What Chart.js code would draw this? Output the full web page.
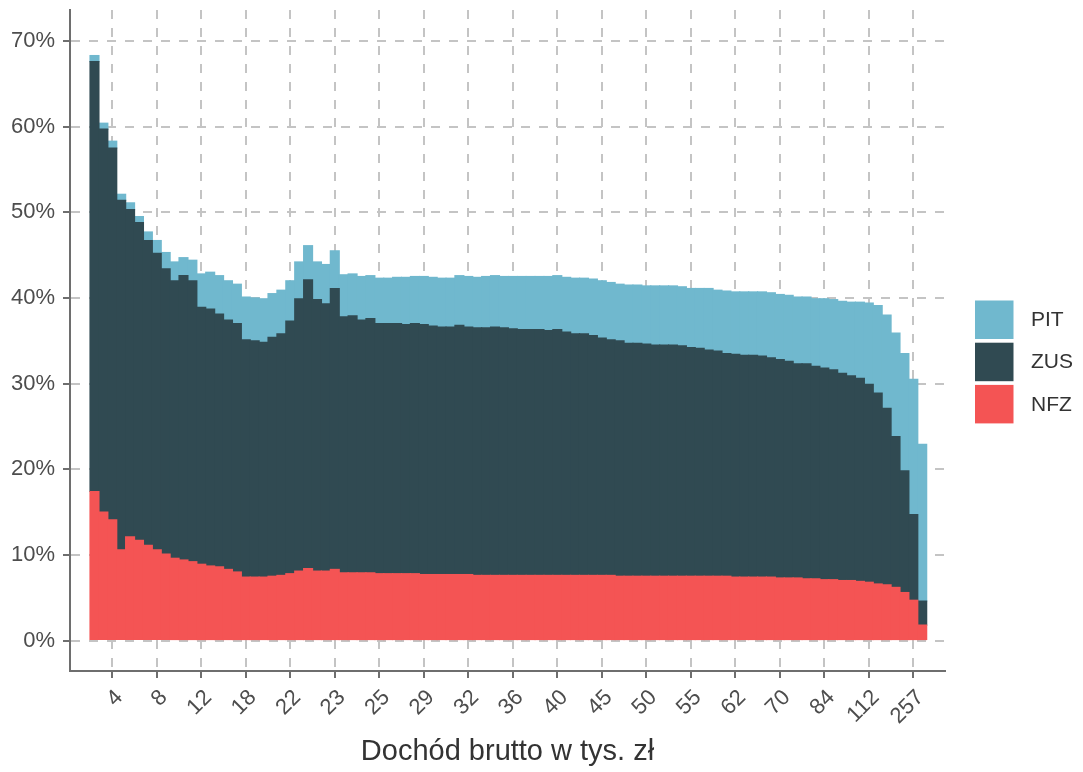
<!DOCTYPE html>
<html>
<head>
<meta charset="utf-8">
<script src="https://cdn.jsdelivr.net/npm/chart.js@4/dist/chart.umd.min.js"></script>
<style>
  html, body { margin:0; padding:0; background:#fff; }
</style>
</head>
<body>
<canvas id="taxChart" width="1083" height="772"></canvas>
<script>
// shares of gross income, percent, one bar per income group
const nfz = [17.4,15.0,14.1,10.6,12.1,11.7,11.1,10.6,10.1,9.6,9.4,9.2,8.9,8.7,8.6,8.3,8.0,7.4,7.4,7.4,
  7.5,7.6,7.8,8.1,8.4,8.1,8.1,8.3,7.9,7.9,7.9,7.9,7.8,7.8,7.8,7.8,7.8,7.7,7.7,7.7,
  7.7,7.7,7.7,7.6,7.6,7.6,7.6,7.6,7.6,7.6,7.6,7.6,7.6,7.6,7.6,7.6,7.6,7.6,7.6,7.5,
  7.5,7.5,7.5,7.5,7.5,7.5,7.5,7.5,7.5,7.5,7.5,7.5,7.4,7.4,7.4,7.4,7.4,7.3,7.3,7.3,
  7.2,7.2,7.1,7.1,7.0,7.0,6.9,6.8,6.6,6.5,6.2,5.6,4.7,1.8];
const zus = [50.2,44.7,43.4,40.8,38.2,37.1,35.6,34.6,33.3,32.4,33.2,32.8,30.0,30.0,29.5,29.1,29.0,27.7,27.6,27.4,
  27.9,28.2,29.5,31.8,33.7,31.7,31.2,32.8,29.9,30.0,29.5,29.7,29.2,29.2,29.2,29.1,29.2,29.2,29.0,28.9,
  28.9,29.1,28.9,28.9,28.9,29.0,28.9,28.8,28.7,28.7,28.7,28.6,28.7,28.4,28.2,28.2,28.0,27.7,27.5,27.5,
  27.2,27.2,27.1,27.0,27.0,27.0,26.9,26.7,26.6,26.4,26.3,26.0,26.0,25.9,25.9,25.8,25.6,25.5,25.3,25.0,
  25.1,24.8,24.7,24.5,24.2,23.9,23.7,23.1,22.3,20.6,17.6,14.2,10.0,2.8];
const pit = [0.7,0.7,0.8,0.7,0.8,0.7,1.0,1.5,1.9,2.2,2.1,2.4,3.9,4.3,4.5,4.6,4.6,5.0,5.0,5.1,
  5.1,5.1,4.7,4.3,4.0,4.4,4.6,4.4,4.9,4.9,5.1,5.0,5.3,5.3,5.4,5.5,5.5,5.6,5.7,5.7,
  5.7,5.8,5.9,5.9,6.0,6.0,6.0,6.1,6.2,6.2,6.2,6.3,6.3,6.4,6.5,6.5,6.6,6.7,6.7,6.6,
  6.8,6.8,6.8,6.9,6.9,6.9,6.9,6.9,7.0,7.2,7.1,7.3,7.3,7.4,7.4,7.5,7.6,7.6,7.7,7.8,
  7.8,7.9,8.1,8.2,8.4,8.6,8.9,9.5,10.2,10.9,12.1,13.7,15.8,18.3];

// x tick labels (income in thousand zl), every 5th group starting at group 3
const tickLabels = ['4','8','12','18','22','23','25','29','32','36','40','45','50','55','62','70','84','112','257'];
const firstTick = 3;
const tickStep = 5;
const yTicks = [0,10,20,30,40,50,60,70];

const FONT = '"Liberation Sans", Arial, sans-serif';
const colors = { pit:'#70b8ce', zus:'#304a52', nfz:'#f45454' };

const toPoints = arr => arr.map((v, i) => ({ x: i + 1, y: v }));

// legend drawn to the right, like the ggplot one
const sideLegend = {
  id: 'sideLegend',
  afterDraw(c) {
    const ctx = c.ctx;
    const items = c.data.datasets.slice().reverse();
    ctx.save();
    ctx.font = '21px ' + FONT;
    ctx.textBaseline = 'middle';
    ctx.textAlign = 'left';
    items.forEach((ds, i) => {
      const top = 300.5 + i * 42.2;
      ctx.fillStyle = ds.backgroundColor;
      ctx.fillRect(975, top, 38.5, 38.5);
      ctx.fillStyle = '#333';
      ctx.fillText(ds.label, 1031, top + 20);
    });
    ctx.restore();
  }
};

new Chart(document.getElementById('taxChart'), {
  type: 'bar',
  data: {
    datasets: [
      { label:'NFZ', data: toPoints(nfz), backgroundColor: colors.nfz },
      { label:'ZUS', data: toPoints(zus), backgroundColor: colors.zus },
      { label:'PIT', data: toPoints(pit), backgroundColor: colors.pit }
    ]
  },
  options: {
    responsive: false,
    animation: false,
    devicePixelRatio: 1,
    barPercentage: 1,
    categoryPercentage: 1,
    inflateAmount: 0.6,
    layout: { padding: { top:10, right:138, bottom:0, left:0 } },
    plugins: {
      legend: { display:false },
      tooltip: { enabled:false }
    },
    scales: {
      x: {
        type: 'linear',
        stacked: true,
        offset: false,
        min: -1.75,
        max: 96.56,
        afterBuildTicks: s => { s.ticks = tickLabels.map((t, i) => ({ value: firstTick + i * tickStep })); },
        afterFit: s => { s.height = 101; s.paddingLeft = 0; s.paddingRight = 0; },
        ticks: {
          autoSkip: false,
          maxRotation: 45,
          minRotation: 45,
          padding: 4,
          labelOffset: 7,
          color: '#4d4d4d',
          font: { family: FONT, size: 22, lineHeight: 1.56 },
          callback: (v, i) => tickLabels[i]
        },
        grid: { offset:false, color:'#c4c4c4', lineWidth:2, tickLength:7, tickWidth:2, tickColor:'#6e6e6e' },
        border: { display:true, color:'#6e6e6e', width:2, dash:[9,9] },
        title: {
          display: true,
          text: 'Dochód brutto w tys. zł',
          color: '#333',
          font: { family: FONT, size: 29 },
          padding: { top:0, bottom:3 }
        }
      },
      y: {
        stacked: true,
        min: -3.56,
        max: 73.62,
        afterBuildTicks: s => { s.ticks = yTicks.map(v => ({ value: v })); },
        afterFit: s => { s.width = 70; s.paddingTop = 0; s.paddingBottom = 0; },
        ticks: {
          padding: 8,
          color: '#4d4d4d',
          font: { family: FONT, size: 22 },
          callback: v => v + '%'
        },
        grid: { color:'#c4c4c4', lineWidth:2, tickLength:7, tickWidth:2, tickColor:'#6e6e6e' },
        border: { display:true, color:'#6e6e6e', width:2, dash:[9,9] }
      }
    }
  },
  plugins: [sideLegend]
});
</script>
</body>
</html>
